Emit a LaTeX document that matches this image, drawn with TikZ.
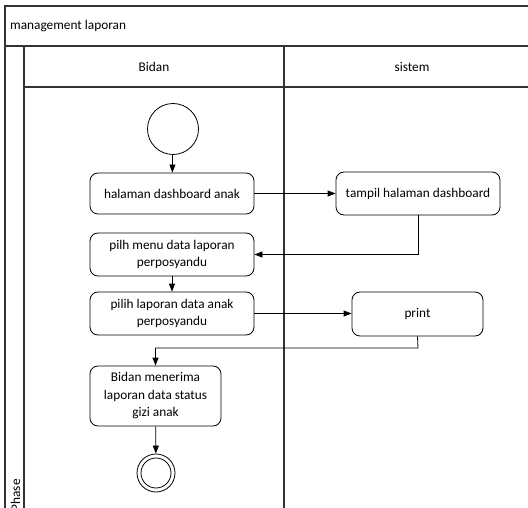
\documentclass[tikz,border=0pt]{standalone}
\usepackage{fontspec}
\setmainfont{Carlito}
\usetikzlibrary{arrows.meta}
\begin{document}
\begin{tikzpicture}[x=1pt,y=-1pt,
  frame/.style={draw=black!80,line width=1.2pt},
  act/.style={draw=black,line width=0.8pt,rounded corners=8pt,align=center,
    font=\fontsize{13.3}{17.5}\selectfont,inner sep=0pt},
  flow/.style={draw=black,line width=0.8pt,-{Triangle[length=8pt,width=6pt]}},
  lbl/.style={font=\fontsize{13.3}{17.5}\selectfont,inner sep=0pt}]
\useasboundingbox (0,0) rectangle (528,508);
\clip (0,0) rectangle (528,508);
% pool frame, title row, lane headers
\draw[frame] (5,520) -- (5,6) -- (540,6);
\draw[frame] (5,46) -- (540,46);
\draw[frame] (24,46) -- (24,520);
\draw[frame] (24,87) -- (540,87);
\draw[frame] (284,46) -- (284,520);
\node[lbl,anchor=west] (title) at (10,26.5) {management laporan};
\node[lbl] (bidan) at (154,67) {Bidan};
\node[lbl] (sistem) at (412,67) {sistem};
\node[lbl,rotate=90,anchor=east] (phase) at (15.5,479) {Phase};
% activities
\node[draw=black,line width=0.8pt,circle,minimum size=51pt,inner sep=0pt] (start) at (173,129) {};
\node[act,minimum width=164pt,minimum height=41pt] (a1) at (172,193.5) {halaman dashboard anak};
\node[act,minimum width=164pt,minimum height=43pt] (a2) at (172,254.5) {pilh menu data laporan\\perposyandu};
\node[act,minimum width=164pt,minimum height=43pt] (a3) at (172,313.5) {pilih laporan data anak\\perposyandu};
\node[act,minimum width=131pt,minimum height=60pt] (a4) at (155.5,396) {Bidan menerima\\laporan data status\\gizi anak};
\node[act,minimum width=164pt,minimum height=43pt] (s1) at (418,193.5) {tampil halaman dashboard};
\node[act,minimum width=131pt,minimum height=44pt] (s2) at (417.5,314) {print};
\node[draw=black,line width=0.8pt,circle,minimum size=38pt,inner sep=0pt] (end) at (156,473) {};
\node[draw=black,line width=0.8pt,circle,minimum size=30pt,inner sep=0pt] (endin) at (156,473) {};
% control flow
\draw[flow] (start) -- (a1);
\draw[flow] (a1) -- (s1);
\draw[flow] (s1.south) |- (a2.east);
\draw[flow] (a2) -- (a3);
\draw[flow] (a3.east) -- (a3.east -| s2.west);
\coordinate (turn) at (418,348);
\draw[flow] (s2.south) -- (turn) -- (turn -| a4.north) -- (a4.north);
\draw[flow] (a4) -- (end);
\end{tikzpicture}
\end{document}
